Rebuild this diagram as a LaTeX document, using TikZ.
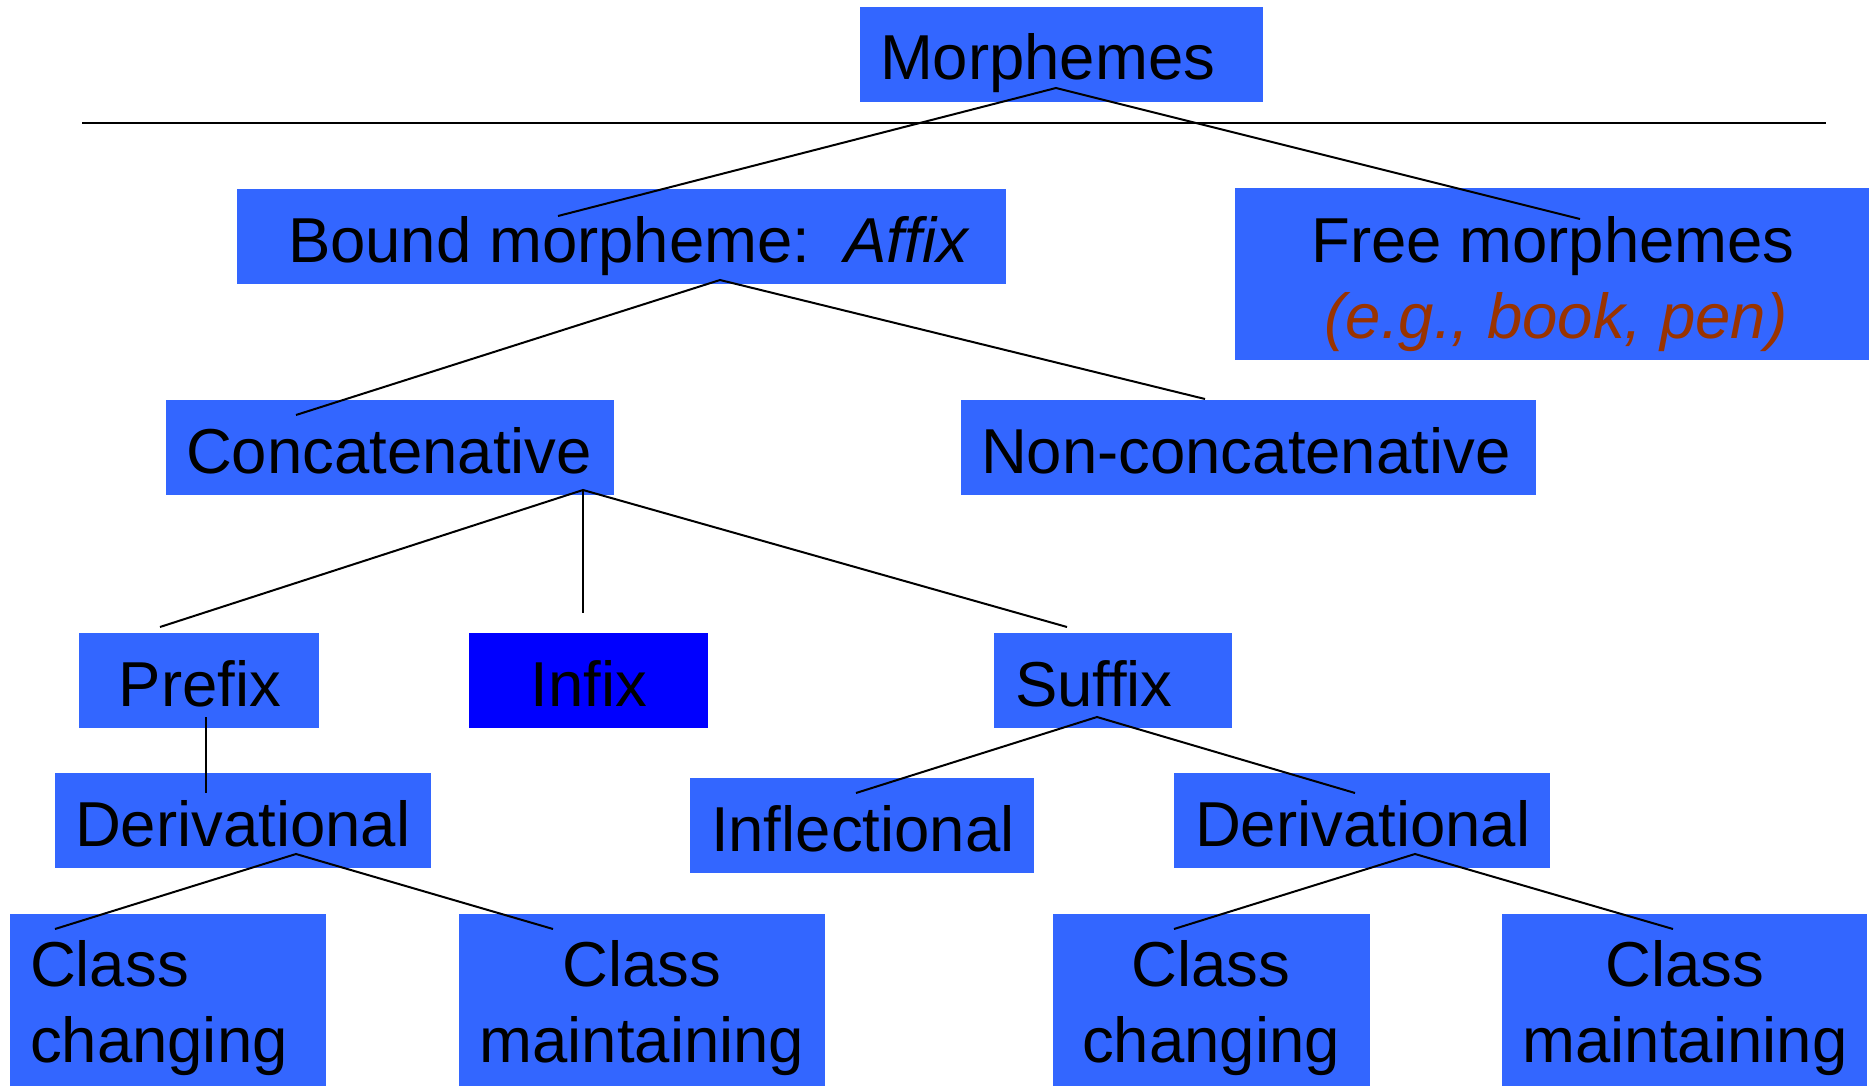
\documentclass[tikz,border=0pt]{standalone}
\usepackage{fontspec}
\setmainfont{Liberation Sans}
\definecolor{boxblue}{HTML}{3366FF}
\definecolor{infixblue}{HTML}{0000FF}
\definecolor{egbrown}{HTML}{993300}
\begin{document}
\begin{tikzpicture}[x=1pt,y=-1pt]
\tikzset{
  boxstyle/.style={fill=boxblue, draw=none, inner sep=0pt, outer sep=0pt, anchor=north west},
  lbl/.style={inner sep=0pt, outer sep=0pt, font=\fontsize{63.5}{75}\selectfont, text=black},
  link/.style={line width=2pt, black},
}
\useasboundingbox (0,0) rectangle (1874,1089);

% boxes
\node[boxstyle, minimum width=403pt, minimum height=95pt] (morph) at (860,7) {};
\node[boxstyle, minimum width=769pt, minimum height=95pt] (bound) at (237,189) {};
\node[boxstyle, minimum width=634pt, minimum height=172pt] (free) at (1235,188) {};
\node[boxstyle, minimum width=448pt, minimum height=95pt] (concat) at (166,400) {};
\node[boxstyle, minimum width=575pt, minimum height=95pt] (nonconcat) at (961,400) {};
\node[boxstyle, minimum width=240pt, minimum height=95pt] (prefix) at (79,633) {};
\node[boxstyle, fill=infixblue, minimum width=239pt, minimum height=95pt] (infix) at (469,633) {};
\node[boxstyle, minimum width=238pt, minimum height=95pt] (suffix) at (994,633) {};
\node[boxstyle, minimum width=376pt, minimum height=95pt] (derivL) at (55,773) {};
\node[boxstyle, minimum width=344pt, minimum height=95pt] (infl) at (690,778) {};
\node[boxstyle, minimum width=376pt, minimum height=95pt] (derivR) at (1174,773) {};
\node[boxstyle, minimum width=316pt, minimum height=172pt] (ccL) at (10,914) {};
\node[boxstyle, minimum width=366pt, minimum height=172pt] (cmL) at (459,914) {};
\node[boxstyle, minimum width=317pt, minimum height=172pt] (ccR) at (1053,914) {};
\node[boxstyle, minimum width=365pt, minimum height=172pt] (cmR) at (1502,914) {};

% rule under title
\coordinate (ruleL) at (82,123);
\coordinate (ruleR) at (1826,123);
\draw[link] (ruleL) -- (ruleR);

% connector end points
\coordinate (morphA) at (1056,88);
\coordinate (boundT) at (558,216);
\coordinate (freeT) at (1580,219);
\coordinate (boundA) at (720,280);
\coordinate (concatT) at (296,415);
\coordinate (nonconcatT) at (1205,399);
\coordinate (concatA) at (583,490);
\coordinate (prefixT) at (160,627);
\coordinate (infixT) at (583,613);
\coordinate (suffixT) at (1067,627);
\coordinate (prefixA) at (206,717);
\coordinate (derivLT) at (206,793);
\coordinate (suffixA) at (1097,717);
\coordinate (inflT) at (856,793);
\coordinate (derivRT) at (1355,793);
\coordinate (derivLA) at (296,854);
\coordinate (ccLT) at (55,929);
\coordinate (cmLT) at (553,929);
\coordinate (derivRA) at (1415,854);
\coordinate (ccRT) at (1174,929);
\coordinate (cmRT) at (1673,929);

\draw[link] (boundT) -- (morphA) -- (freeT);
\draw[link] (concatT) -- (boundA) -- (nonconcatT);
\draw[link] (prefixT) -- (concatA) -- (suffixT);
\draw[link] (concatA) -- (infixT);
\draw[link] (prefixA) -- (derivLT);
\draw[link] (inflT) -- (suffixA) -- (derivRT);
\draw[link] (ccLT) -- (derivLA) -- (cmLT);
\draw[link] (ccRT) -- (derivRA) -- (cmRT);

% texts
\node[lbl, anchor=base west] (morphX) at (880,80) {Morphemes};
\node[lbl, anchor=base west] (boundX) at (288,262) {Bound morpheme: \,\textit{Affix}};
\node[lbl, anchor=base] (freeX1) at (1553,262) {Free morphemes};
\node[lbl, anchor=base, text=egbrown] (freeX2) at (1556,338) {\textit{(e.g., book, pen)}};
\node[lbl, anchor=base west] (concatX) at (186,473) {Concatenative};
\node[lbl, anchor=base west] (nonconcatX) at (981,473) {Non-concatenative};
\node[lbl, anchor=base] (prefixX) at (200,706) {Prefix};
\node[lbl, anchor=base] (infixX) at (589,706) {Infix};
\node[lbl, anchor=base west] (suffixX) at (1015,706) {Suffix};
\node[lbl, anchor=base west] (derivLX) at (75,846) {Derivational};
\node[lbl, anchor=base west] (inflX) at (711,851) {Inflectional};
\node[lbl, anchor=base west] (derivRX) at (1195,846) {Derivational};
\node[lbl, anchor=base west] (ccLX1) at (30,986) {Class};
\node[lbl, anchor=base west] (ccLX2) at (30,1062) {changing};
\node[lbl, anchor=base] (cmLX1) at (642,986) {Class};
\node[lbl, anchor=base] (cmLX2) at (642,1062) {maintaining};
\node[lbl, anchor=base] (ccRX1) at (1211,986) {Class};
\node[lbl, anchor=base] (ccRX2) at (1211,1062) {changing};
\node[lbl, anchor=base] (cmRX1) at (1685,986) {Class};
\node[lbl, anchor=base] (cmRX2) at (1685,1062) {maintaining};
\end{tikzpicture}
\end{document}
